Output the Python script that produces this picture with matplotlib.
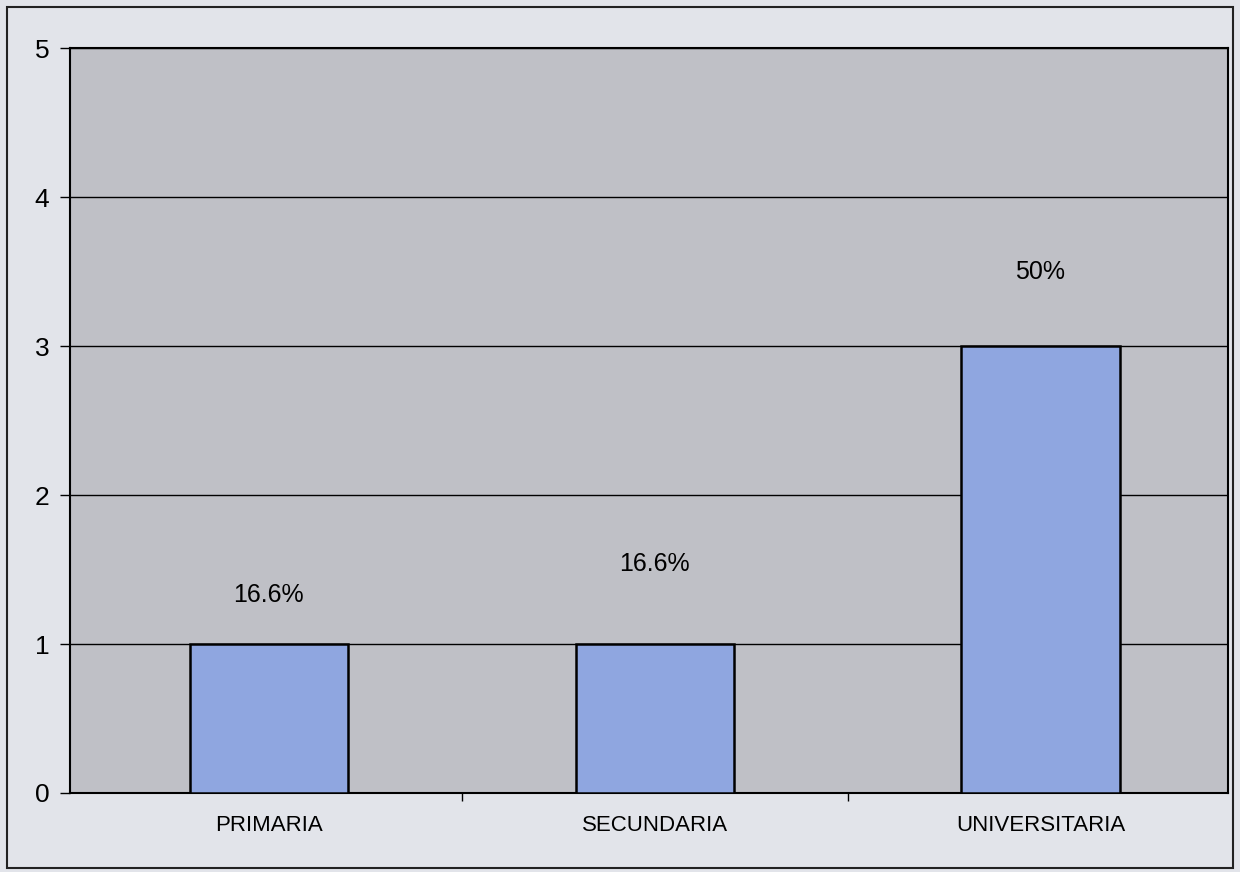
import matplotlib.pyplot as plt
from matplotlib.patches import Rectangle

categories = ['PRIMARIA', 'SECUNDARIA', 'UNIVERSITARIA']
counts = [1, 1, 3]
pct_labels = ['16.6%', '16.6%', '50%']
label_heights = [1.33, 1.54, 3.5]


def main():
    plt.rcParams['font.family'] = ['Liberation Sans', 'DejaVu Sans']
    fig = plt.figure(figsize=(12.4, 8.72), dpi=100, facecolor='#e2e4ea')
    ax = fig.add_axes([0.0565, 0.0906, 0.9335, 0.854])
    ax.set_facecolor('#bfc0c6')

    x = range(len(categories))
    ax.bar(x, counts, width=0.41, color='#8fa6e0', edgecolor='black', linewidth=1.8, zorder=3)
    for i, (lab, h) in enumerate(zip(pct_labels, label_heights)):
        ax.text(i, h, lab, ha='center', va='center', fontsize=18, zorder=4)

    ax.set_xlim(-0.515, 2.485)
    ax.set_ylim(0, 5)
    ax.set_yticks(range(6))
    ax.grid(axis='y', color='black', linewidth=1.0, zorder=1)

    # category labels centred, ticks between categories
    ax.set_xticks([0.5, 1.5])
    ax.set_xticklabels([])
    ax.set_xticks(list(x), minor=True)
    ax.set_xticklabels(categories, minor=True, fontsize=16)
    ax.tick_params(axis='x', which='minor', length=0, pad=16)
    ax.tick_params(axis='x', which='major', length=6, width=1, direction='out')
    ax.tick_params(axis='y', length=7, width=1, labelsize=19, pad=8)

    for s in ax.spines.values():
        s.set_linewidth(1.5)
        s.set_color('black')

    fig.patches.append(Rectangle((0.006, 0.005), 0.988, 0.987, transform=fig.transFigure,
                                 fill=False, edgecolor='#222222', linewidth=1.5))

    fig.savefig('out.png', dpi=100, facecolor=fig.get_facecolor())


if __name__ == '__main__':
    main()
